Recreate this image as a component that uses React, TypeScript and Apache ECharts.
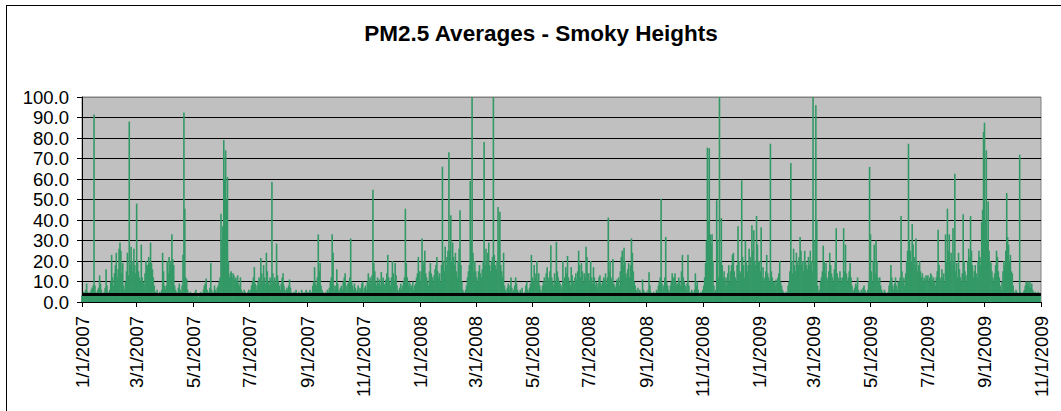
import React, { useEffect, useRef } from "react";
import * as echarts from "echarts";

const TITLE = "PM2.5 Averages - Smoky Heights";
const START_YEAR = 2007;
const THRESHOLD = 3.6;
const Y_TICKS = [0, 10, 20, 30, 40, 50, 60, 70, 80, 90, 100];

// Daily PM2.5 averages, one value per day, month by month
const pm2007: number[] = [
  // Jan
  3, 4, 5, 4, 6, 9, 5, 4, 3, 5, 6, 7, 8, 91.5, 8, 5, 4, 6, 7, 13, 9, 6, 4, 3, 5, 7, 16, 8, 5, 4, 6,
  // Feb
  10, 23, 12, 8, 14, 18, 24, 12, 16, 26, 29, 25, 14, 19, 8, 6, 10, 15, 24, 13, 88, 18, 27, 20, 15, 26, 18, 14,
  // Mar
  48, 20, 15, 12, 10, 28, 12, 10, 8, 14, 20, 18, 18, 22, 19, 29, 19, 16, 12, 8, 5, 4, 6, 4, 3, 5, 4, 6, 24, 15, 8,
  // Apr
  6, 8, 20, 14, 22, 18, 20, 33, 21, 18, 8, 6, 5, 4, 7, 9, 6, 5, 8, 23, 92.5, 45.5, 12, 11, 6, 4, 3, 5, 4, 3,
  // May
  4, 3, 5, 6, 4, 3, 2, 4, 5, 3, 4, 6, 8, 9, 11.5, 6, 5, 4, 7, 19, 6, 4, 5, 8, 6, 5, 7, 8, 10, 12, 43,
  // Jun
  30, 37, 79, 60, 74, 50, 61, 20, 12, 14, 15, 12, 14, 13, 11, 12, 10, 13, 9, 8, 12, 6, 5, 4, 6, 5, 4, 3, 5, 6,
  // Jul
  5, 6, 8, 10, 12, 17, 9, 6, 8, 10, 12, 9, 21.5, 14, 10, 18, 12, 9, 24, 15, 10, 8, 12, 9, 58.5, 14, 10, 12, 9, 28.5, 13,
  // Aug
  10, 8, 6, 9, 12, 14, 8, 6, 5, 7, 6, 8, 11, 7, 5, 4, 3, 5, 4, 6, 3, 4, 5, 3, 4, 6, 5, 3, 4, 5, 6,
  // Sep
  4, 5, 3, 6, 4, 5, 8, 10, 17, 9, 8, 12, 33, 15, 19, 8, 6, 5, 4, 3, 5, 4, 6, 5, 7, 10, 12, 33, 24, 8,
  // Oct
  6, 8, 16, 9, 6, 5, 7, 8, 6, 10, 12, 14, 8, 6, 9, 10, 12, 31, 10, 8, 6, 9, 7, 5, 6, 8, 5, 7, 6, 9, 10,
  // Nov
  5, 7, 8, 6, 10, 14, 9, 12, 10, 13, 54.8, 19, 15, 10, 8, 12, 9, 11, 8, 14.6, 10, 12, 9, 8, 11, 14, 23, 12, 10, 8,
  // Dec
  12, 20, 14, 10, 19, 13, 8, 6, 5, 7, 9, 6, 8, 10, 12, 45.5, 19, 12, 8, 10, 9, 7, 8, 10, 6, 8, 9, 12, 14, 22, 15,
];

const pm2008: number[] = [
  // Jan
  10, 15, 31, 20, 18, 25, 14, 12, 10, 8, 15, 19, 14, 12, 10, 13, 16, 18, 22, 15, 12, 14, 10, 18, 66, 20, 15, 27, 18, 22, 25,
  // Feb
  73, 25, 42.3, 20, 29, 22, 18, 24, 15, 12, 20, 26, 44.7, 18, 10, 6, 5, 4, 6, 8, 12, 15, 18, 59, 30, 100, 24, 15, 20,
  // Mar
  15, 12, 10, 15, 18, 14, 12, 16, 20, 78, 18, 26, 20, 24, 29, 18, 15, 20, 22, 100, 23, 18, 16, 20, 46.3, 30, 44, 18, 15, 12, 24,
  // Apr
  8, 6, 5, 7, 9, 6, 8, 12, 7, 5, 6, 8, 12, 9, 6, 5, 4, 6, 5, 7, 4, 3, 5, 8, 10, 6, 5, 7, 9, 23,
  // May
  12, 10, 18, 12, 14, 20, 10, 14, 8, 6, 5, 8, 10, 12, 9, 14, 17, 12, 10, 15, 27.7, 12, 10, 8, 14, 10, 29.3, 15, 12, 10, 9,
  // Jun
  8, 6, 20, 10, 12, 17, 14, 22.5, 12, 10, 8, 17, 13, 10, 9, 12, 14, 11, 15, 25, 18, 12, 19, 15, 10, 14, 12, 27, 22, 14,
  // Jul
  14, 10, 20, 12, 9, 17, 12, 8, 10, 7, 9, 12, 13, 9, 8, 10, 12, 11, 14, 9, 12, 41.2, 15, 20, 12, 10, 21, 9, 8, 7, 11,
  // Aug
  10, 12, 8, 15, 22, 25, 18, 26.5, 20, 14, 12, 16, 19, 12, 18, 31, 24, 15, 10, 8, 6, 5, 7, 4, 6, 5, 4, 11, 6, 5, 4,
  // Sep
  5, 4, 6, 14.5, 8, 5, 4, 3, 5, 3, 4, 6, 5, 8, 10, 12, 50.4, 9, 6, 8, 12, 31.7, 10, 8, 6, 5, 8, 10, 14, 12,
  // Oct
  12, 14, 10, 8, 9, 12, 10, 8, 15, 23, 12, 10, 8, 6, 9, 23, 8, 5, 4, 6, 5, 4, 6, 14, 8, 10, 6, 4, 3, 5, 4,
  // Nov
  6, 8, 12, 19, 30, 75.3, 40, 75, 33, 28, 33, 20, 8, 5, 6, 49.6, 30, 12, 100, 20, 41, 18, 12, 15, 10, 12, 8, 14, 18, 10,
  // Dec
  15, 18, 23, 24, 15, 12, 10, 18, 37, 20, 15, 14, 59.4, 22, 18, 12, 30, 20, 15, 18, 26, 22, 18, 37.5, 25, 35, 20, 18, 42, 28, 20,
];

const pm2009: number[] = [
  // Jan
  20, 15, 36.5, 12, 17, 10, 12, 15, 23, 14, 12, 10, 77.2, 15, 12, 10, 10, 8, 11, 9, 12, 14, 20, 10, 8, 6, 5, 4, 3, 5, 4,
  // Feb
  8, 10, 15, 67.8, 20, 14, 26, 18, 15, 24, 20, 18, 22, 31.7, 25, 18, 20, 15, 25, 20, 18, 16, 22, 18, 25, 20, 15, 100,
  // Mar
  30, 20, 96, 40, 8, 5, 6, 10, 12, 15, 27.5, 20, 14, 19, 12, 10, 15, 24, 18, 14, 12, 10, 16, 20, 36, 14, 12, 10, 15, 12, 10,
  // Apr
  12, 36, 15, 28, 14, 10, 12, 15, 19, 12, 8, 6, 5, 7, 9, 8, 12, 6, 5, 4, 6, 5, 7, 8, 6, 5, 4, 6, 10, 65.9,
  // May
  33, 15, 10, 20, 28, 14, 30, 20, 12, 10, 12, 8, 6, 5, 4, 6, 5, 4, 3, 5, 8, 10, 18, 12, 8, 6, 9, 12, 8, 6, 10,
  // Jun
  10, 12, 42, 15, 10, 12, 8, 14, 20, 25, 77.2, 30, 25, 20, 38, 28, 22, 18, 31, 20, 15, 18, 20, 15, 12, 14, 10, 12, 11, 13,
  // Jul
  12, 13, 10, 12, 14, 13, 11, 12, 10, 8, 12, 15, 35.3, 18, 12, 10, 16, 12, 14, 10, 33, 20, 45.5, 25, 33, 20, 24, 18, 36, 20, 62.6,
  // Aug
  15, 19, 12, 24, 16, 12, 10, 14, 42.8, 20, 15, 13, 10, 20, 26, 22, 41.9, 25, 18, 12, 15, 18, 14, 12, 20, 25, 22, 18, 39, 45, 83,
  // Sep
  87.5, 40, 74, 30, 49, 25, 20, 19, 15, 12, 10, 14, 18, 25, 22, 15, 12, 8, 6, 10, 15, 20, 18, 25, 53.2, 31.7, 28, 20, 23, 15,
  // Oct
  14, 8, 5, 4, 6, 5, 3, 4, 71.9, 5, 4, 3, 5, 6, 8, 10, 9, 10, 8, 10, 7, 9, 6, 5, 4, 5, 4, 3, 5, 4, 3,
];

const FONT = "'Liberation Sans', Arial, sans-serif";

export default function App() {
  const ref = useRef<HTMLDivElement>(null);

  useEffect(() => {
    if (!ref.current) return;
    const chart = echarts.init(ref.current, undefined, { renderer: "svg" });

    const values: (number | null)[] = [...pm2007, ...pm2008, ...pm2009, null];
    const dates: Date[] = values.map((_, i) => new Date(START_YEAR, 0, 1 + i));
    const categories = dates.map(
      (d) => `${d.getMonth() + 1}/${d.getDate()}/${d.getFullYear()}`
    );
    const isTick = (index: number) => {
      const d = dates[index];
      return !!d && d.getDate() === 1 && d.getMonth() % 2 === 0;
    };

    const splitColors = Y_TICKS.map((v, i) => (i === Y_TICKS.length - 1 ? "#808080" : "#000000"));

    chart.setOption({
      animation: false,
      backgroundColor: "#ffffff",
      textStyle: { fontFamily: FONT },
      graphic: [
        {
          type: "line",
          shape: { x1: 6.5, y1: 5, x2: 6.5, y2: 411 },
          style: { stroke: "#000", lineWidth: 1 },
          silent: true,
        },
        {
          type: "line",
          shape: { x1: 6, y1: 5.5, x2: 1061, y2: 5.5 },
          style: { stroke: "#000", lineWidth: 1 },
          silent: true,
        },
        {
          type: "text",
          x: 541,
          y: 33.5,
          style: {
            text: TITLE,
            fill: "#000",
            font: `bold 22.5px ${FONT}`,
            align: "center",
            verticalAlign: "middle",
          },
          silent: true,
        },
      ],
      grid: {
        left: 82,
        right: 20,
        top: 97,
        bottom: 109,
        show: true,
        backgroundColor: "#C0C0C0",
        borderColor: "#808080",
        borderWidth: 1,
        containLabel: false,
        outerBoundsMode: "none",
      },
      xAxis: {
        type: "category",
        data: categories,
        boundaryGap: false,
        axisLine: { show: true, lineStyle: { color: "#000", width: 1 } },
        axisTick: {
          show: true,
          interval: (index: number) => isTick(index),
          length: 5,
          lineStyle: { color: "#000" },
        },
        axisLabel: {
          interval: (index: number) => isTick(index),
          rotate: 90,
          margin: 14,
          fontSize: 18.5,
          fontFamily: FONT,
          color: "#000",
        },
        splitLine: { show: false },
      },
      yAxis: {
        type: "value",
        min: 0,
        max: 100,
        interval: 10,
        axisLine: { show: true, lineStyle: { color: "#000", width: 1 } },
        axisTick: { show: true, length: 5, lineStyle: { color: "#000" } },
        axisLabel: {
          formatter: (v: number) => v.toFixed(1),
          margin: 13,
          fontSize: 18.5,
          fontFamily: FONT,
          color: "#000",
        },
        splitLine: { show: true, lineStyle: { color: splitColors, width: 1 } },
      },
      series: [
        {
          type: "bar",
          data: values,
          barWidth: 1.6,
          itemStyle: { color: "#339966" },
          silent: true,
          markLine: {
            silent: true,
            symbol: ["none", "none"],
            label: { show: false },
            lineStyle: { color: "#000", width: 3, type: "solid" },
            data: [{ yAxis: THRESHOLD }],
          },
        },
      ],
    });

    return () => chart.dispose();
  }, []);

  return (
    <div
      style={{
        position: "absolute",
        left: 0,
        top: 0,
        width: 1061,
        height: 411,
        overflow: "hidden",
        background: "#fff",
      }}
    >
      <div ref={ref} style={{ width: 1061, height: 411 }} />
    </div>
  );
}
